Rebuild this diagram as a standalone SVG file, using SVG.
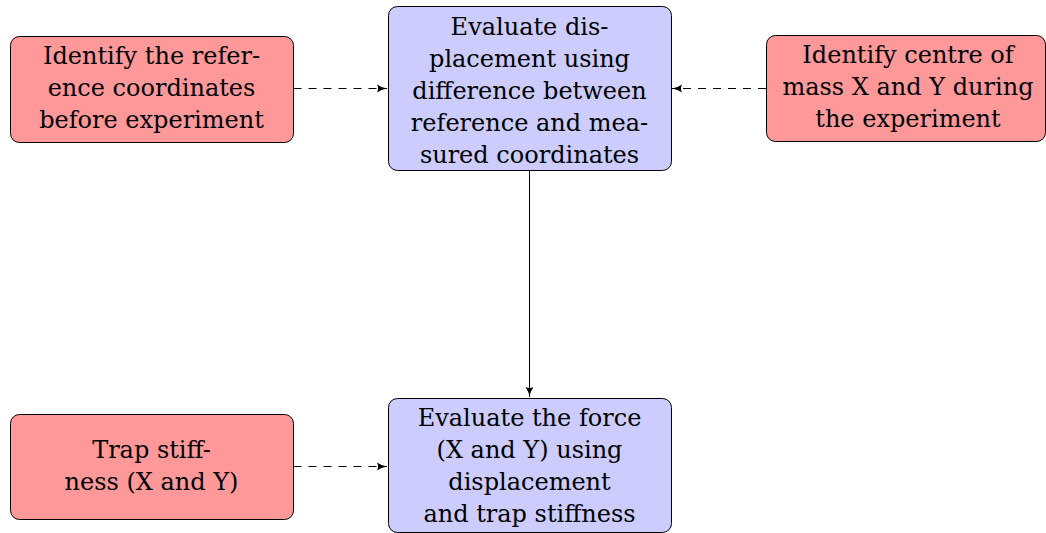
<svg xmlns="http://www.w3.org/2000/svg" width="1046" height="533" viewBox="0 0 1046 533">
<style>
.red{fill:#FF9999;stroke:#000;stroke-width:1}
.blue{fill:#CCCCFF;stroke:#000;stroke-width:1}
text{font-family:"DejaVu Serif",serif;font-size:24px;fill:#000;text-anchor:middle}
.c{stroke:#000;stroke-width:1;fill:none}
.d{stroke-dasharray:8 7}
</style>
<defs>
<marker id="ah" viewBox="0 0 10 10" refX="10" refY="5" markerWidth="10" markerHeight="10" markerUnits="userSpaceOnUse" orient="auto">
<path d="M0,1 Q4,4 10,5 Q4,6 0,9 Q2,5 0,1 Z" fill="#000"/>
</marker>
</defs>
<rect width="1046" height="533" fill="#fff"/>
<g id="connectors">
<path class="c d" d="M293.5,88.5 H387" marker-end="url(#ah)"/>
<path class="c d" d="M766,88.5 H672" marker-end="url(#ah)"/>
<path class="c d" d="M293.5,466.5 H387" marker-end="url(#ah)"/>
<path class="c" d="M529.5,170.5 V397" marker-end="url(#ah)"/>
</g>
<g id="n1">
<rect class="red" x="10.5" y="36.5" width="283" height="106" rx="9"/>
<text x="151.5"><tspan x="151.5" y="64">Identify the refer-</tspan><tspan x="151.5" y="96">ence coordinates</tspan><tspan x="151.5" y="128">before experiment</tspan></text>
</g>
<g id="n2">
<rect class="blue" x="388.5" y="6.5" width="283" height="164" rx="9"/>
<text><tspan x="529.5" y="35">Evaluate dis-</tspan><tspan x="529.5" y="67">placement using</tspan><tspan x="529.5" y="99">difference between</tspan><tspan x="529.5" y="131">reference and mea-</tspan><tspan x="529.5" y="163">sured coordinates</tspan></text>
</g>
<g id="n3">
<rect class="red" x="766.5" y="35.5" width="279" height="106" rx="9"/>
<text><tspan x="908" y="63">Identify centre of</tspan><tspan x="908" y="95">mass X and Y during</tspan><tspan x="908" y="127">the experiment</tspan></text>
</g>
<g id="n4">
<rect class="red" x="10.5" y="414.5" width="283" height="105" rx="9"/>
<text><tspan x="151.5" y="458">Trap stiff-</tspan><tspan x="151.5" y="490">ness (X and Y)</tspan></text>
</g>
<g id="n5">
<rect class="blue" x="388.5" y="398.5" width="283" height="134" rx="9"/>
<text><tspan x="529.5" y="426">Evaluate the force</tspan><tspan x="529.5" y="458">(X and Y) using</tspan><tspan x="529.5" y="490">displacement</tspan><tspan x="529.5" y="522">and trap stiffness</tspan></text>
</g>
</svg>
